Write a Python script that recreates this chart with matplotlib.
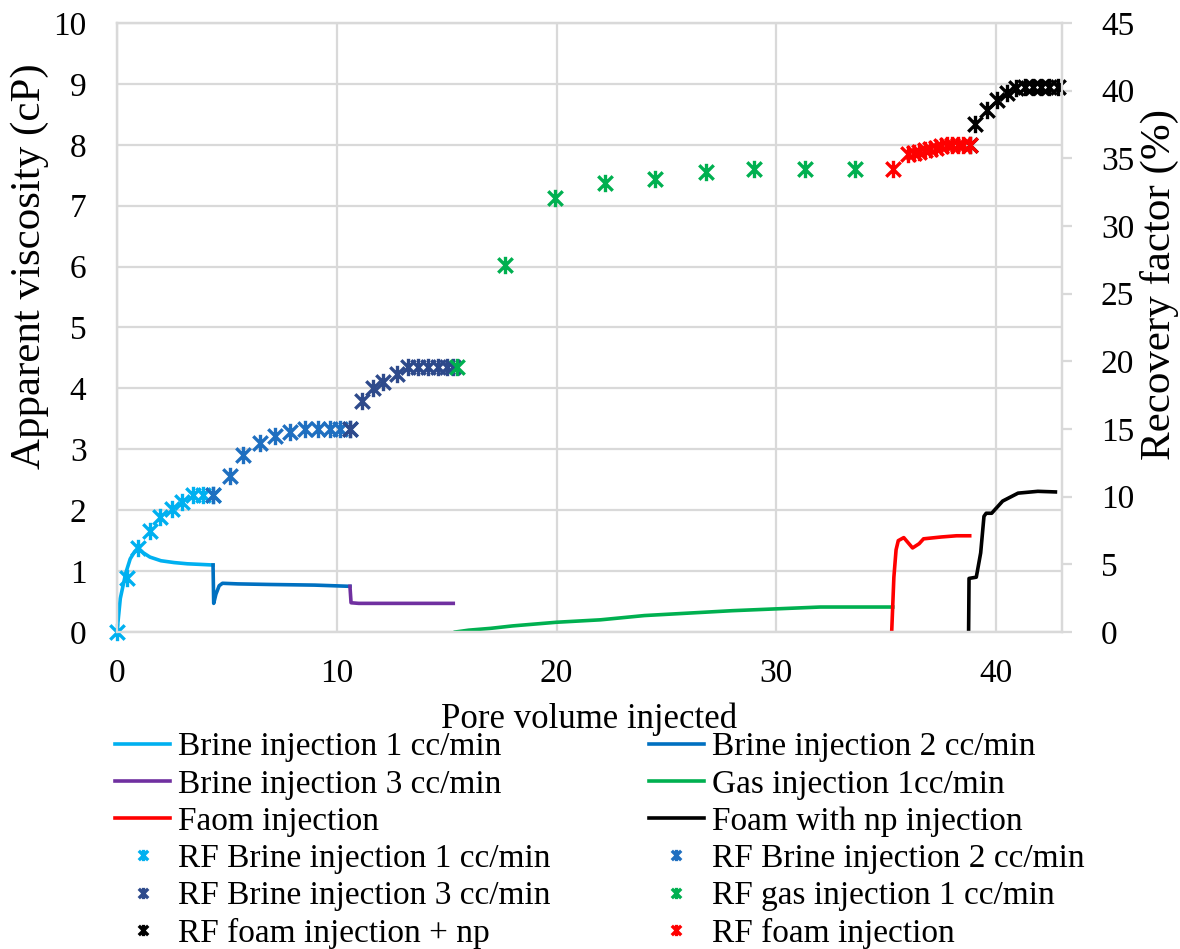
import matplotlib
matplotlib.use("Agg")
import matplotlib.pyplot as plt
from matplotlib.path import Path

# viscosity curves (pore volume, apparent viscosity cP)
brine1_pv = [0, 0.15, 0.4, 0.6, 0.8, 0.96, 1.2, 1.5, 2.0, 2.6, 3.2, 3.8, 4.37]
brine1_visc = [0, 0.55, 0.97, 1.2, 1.32, 1.38, 1.3, 1.23, 1.17, 1.14, 1.12, 1.11, 1.1]
brine2_pv = [4.37, 4.40, 4.5, 4.65, 4.8, 5.5, 7.0, 9.0, 10.6]
brine2_visc = [1.1, 0.47, 0.62, 0.76, 0.8, 0.79, 0.78, 0.77, 0.75]
brine3_pv = [10.6, 10.65, 11.0, 13.0, 15.3]
brine3_visc = [0.75, 0.48, 0.47, 0.47, 0.47]
gas_pv = [15.4, 16, 17, 18, 20, 22, 24, 26, 28, 30, 32, 35.3]
gas_visc = [0, 0.03, 0.06, 0.1, 0.16, 0.2, 0.27, 0.31, 0.35, 0.38, 0.41, 0.41]
foam_pv = [35.25, 35.35, 35.45, 35.55, 35.8, 36.2, 36.5, 36.7, 37.5, 38.2, 38.8]
foam_visc = [0, 0.9, 1.35, 1.5, 1.55, 1.38, 1.45, 1.53, 1.56, 1.58, 1.58]
foamnp_pv = [38.75, 38.77, 39.1, 39.3, 39.45, 39.55, 39.8, 40.3, 41.0, 41.9, 42.7]
foamnp_visc = [0, 0.88, 0.9, 1.3, 1.9, 1.95, 1.95, 2.15, 2.28, 2.31, 2.3]

# recovery factor points (pore volume, RF %)
rf_brine1_pv = [0, 0.45, 0.96, 1.5, 1.96, 2.5, 2.96, 3.46, 3.9, 4.37]
rf_brine1 = [0, 4.0, 6.2, 7.5, 8.5, 9.1, 9.6, 10.1, 10.1, 10.1]
rf_brine2_pv = [4.37, 5.14, 5.73, 6.5, 7.2, 7.87, 8.56, 9.15, 9.7, 10.15, 10.6]
rf_brine2 = [10.1, 11.5, 13.1, 14.0, 14.5, 14.8, 15.0, 15.0, 15.0, 15.0, 15.0]
rf_brine3_pv = [10.6, 11.15, 11.65, 12.1, 12.75, 13.25, 13.7, 14.15, 14.6, 15.0, 15.3]
rf_brine3 = [15.0, 17.1, 18.0, 18.5, 19.1, 19.6, 19.6, 19.6, 19.6, 19.6, 19.6]
rf_gas_pv = [15.45, 17.66, 19.94, 22.2, 24.5, 26.8, 29.0, 31.3, 33.6]
rf_gas = [19.6, 27.1, 32.1, 33.2, 33.5, 34.0, 34.2, 34.2, 34.2]
rf_foam_pv = [35.3, 36.0, 36.25, 36.5, 36.75, 37.0, 37.25, 37.5, 37.75, 38.0, 38.25, 38.5, 38.8]
rf_foam = [34.2, 35.3, 35.4, 35.5, 35.6, 35.7, 35.8, 35.9, 35.95, 36.0, 36.0, 36.0, 36.0]
rf_foamnp_pv = [38.8, 39.05, 39.6, 40.05, 40.5, 40.9, 41.3, 41.7, 42.05, 42.4, 42.8]
rf_foamnp = [36.0, 37.5, 38.6, 39.3, 39.8, 40.2, 40.3, 40.3, 40.3, 40.3, 40.3]

plt.rcParams['font.family'] = ['Liberation Serif', 'DejaVu Serif']
plt.rcParams['font.size'] = 24

# Excel style star marker: X plus vertical bar
star = Path([(-1, -1), (1, 1), (-1, 1), (1, -1), (0, -1.2), (0, 1.2)],
            [Path.MOVETO, Path.LINETO, Path.MOVETO, Path.LINETO, Path.MOVETO, Path.LINETO])

fig = plt.figure(figsize=(11.8, 9.49), dpi=100)
ax = fig.add_axes([117 / 1180, 1 - 632 / 949, 945 / 1180, 609 / 949])
ax2 = ax.twinx()

grid_c = '#D9D9D9'
ax.set_xlim(0, 43)
ax.set_ylim(0, 10)
ax2.set_ylim(0, 45)
ax.set_xticks([0, 10, 20, 30, 40])
ax.set_yticks(range(0, 11))
ax2.set_yticks(range(0, 46, 5))
ax.grid(True, color=grid_c, lw=1.6)
ax.set_axisbelow(True)

for a in (ax, ax2):
    for s in a.spines.values():
        s.set_color(grid_c)
        s.set_linewidth(1.6)
ax.tick_params(axis='both', length=0)
ax.tick_params(axis='y', pad=22)
ax.tick_params(axis='x', pad=19)
ax2.tick_params(axis='y', length=7, width=1.6, color=grid_c, pad=21)

lines = [
    (brine1_pv, brine1_visc, '#00B0F0', 'Brine injection 1 cc/min'),
    (brine2_pv, brine2_visc, '#0070C0', 'Brine injection 2 cc/min'),
    (brine3_pv, brine3_visc, '#7030A0', 'Brine injection 3 cc/min'),
    (gas_pv, gas_visc, '#00B050', 'Gas injection 1cc/min'),
    (foam_pv, foam_visc, '#FF0000', 'Faom injection'),
    (foamnp_pv, foamnp_visc, '#000000', 'Foam with np injection'),
]
h = {}
for x, y, c, lab in lines:
    h[lab], = ax.plot(x, y, color=c, lw=2.6, label=lab)

pts = [
    (rf_brine1_pv, rf_brine1, '#00B0F0', 'RF Brine injection 1 cc/min'),
    (rf_brine2_pv, rf_brine2, '#1F6FC0', 'RF Brine injection 2 cc/min'),
    (rf_brine3_pv, rf_brine3, '#2E4A8B', 'RF Brine injection 3 cc/min'),
    (rf_gas_pv, rf_gas, '#00B050', 'RF gas injection 1 cc/min'),
    (rf_foamnp_pv, rf_foamnp, '#000000', 'RF foam injection + np'),
    (rf_foam_pv, rf_foam, '#FF0000', 'RF foam injection'),
]
for x, y, c, lab in pts:
    h[lab], = ax2.plot(x, y, ls='none', marker=star, ms=12.5, mew=2.4,
                       color=c, label=lab, clip_on=False)

ax.set_xlabel('Pore volume injected', fontsize=25, labelpad=10)
ax.set_ylabel('Apparent viscosity (cP)', fontsize=31)
ax.yaxis.set_label_coords(-0.072, 0.60)
ax2.set_ylabel('Recovery factor (%)', fontsize=31)
ax2.yaxis.set_label_coords(1.082, 0.57)

order = ['Brine injection 1 cc/min', 'Brine injection 3 cc/min', 'Faom injection',
         'RF Brine injection 1 cc/min', 'RF Brine injection 3 cc/min', 'RF foam injection + np',
         'Brine injection 2 cc/min', 'Gas injection 1cc/min', 'Foam with np injection',
         'RF Brine injection 2 cc/min', 'RF gas injection 1 cc/min', 'RF foam injection']
fig.legend([h[k] for k in order], order, ncol=2, loc='upper left',
           bbox_to_anchor=(115 / 1180, 1 - 732 / 949), frameon=False,
           handlelength=1.65, handletextpad=0.24, columnspacing=2.95,
           labelspacing=0.2, borderpad=0, borderaxespad=0, markerscale=0.65)

fig.savefig('out.png', dpi=100)
